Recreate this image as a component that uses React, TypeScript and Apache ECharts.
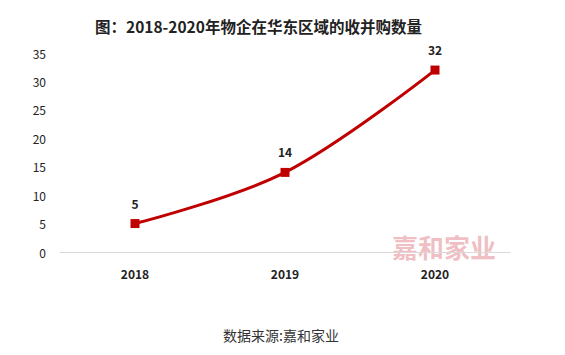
import React, { useEffect, useRef } from "react";
import * as echarts from "echarts";

const categories = ["2018", "2019", "2020"];
const values = [5, 14, 32];
const titleText = "图：2018-2020年物企在华东区域的收并购数量";
const sourceText = "数据来源:嘉和家业";
const watermarkText = "嘉和家业";

export default function App() {
  const ref = useRef<HTMLDivElement>(null);
  useEffect(() => {
    if (!ref.current) return;
    const chart = echarts.init(ref.current, null, { renderer: "svg" });
    chart.setOption({
      animation: false,
      backgroundColor: "#fff",
      title: {
        text: titleText,
        left: 90,
        top: 13,
        textStyle: { fontSize: 15.5, fontWeight: "bold", color: "#222", fontFamily: "Noto Sans CJK SC" },
      },
      grid: { left: 60, right: 55, top: 53, bottom: 103 },
      xAxis: {
        type: "category",
        data: categories,
        axisLine: { lineStyle: { color: "#d9d9d9", width: 1 } },
        axisTick: { show: false },
        axisLabel: { fontSize: 12, fontWeight: "bold", color: "#222", margin: 15, fontFamily: "Noto Sans CJK SC" },
      },
      yAxis: {
        type: "value",
        min: 0,
        max: 35,
        interval: 5,
        axisLine: { show: false },
        axisTick: { show: false },
        splitLine: { show: false },
        axisLabel: { fontSize: 12, color: "#222", margin: 14, fontFamily: "Noto Sans CJK SC" },
      },
      graphic: [
        {
          type: "text",
          left: 392,
          top: 231,
          z: 0,
          style: { text: watermarkText, fontSize: 26, lineHeight: 30, fontWeight: "bold", fill: "rgba(220,110,120,0.45)", fontFamily: "Noto Sans CJK SC" },
        },
        {
          type: "text",
          left: 223,
          top: 328,
          style: { text: sourceText, fontSize: 14, fill: "#333", fontFamily: "Noto Sans CJK SC" },
        },
      ],
      series: [
        {
          type: "line",
          data: values,
          smooth: 0.35,
          symbol: "rect",
          symbolSize: 9,
          lineStyle: { color: "#C00000", width: 3 },
          itemStyle: { color: "#C00000" },
          label: {
            show: true,
            position: "top",
            distance: 10,
            fontSize: 12,
            fontWeight: "bold",
            color: "#222",
            fontFamily: "Noto Sans CJK SC",
          },
          z: 3,
        },
      ],
    });
    return () => chart.dispose();
  }, []);
  return <div ref={ref} style={{ width: 565, height: 355, margin: -8 }} />;
}
